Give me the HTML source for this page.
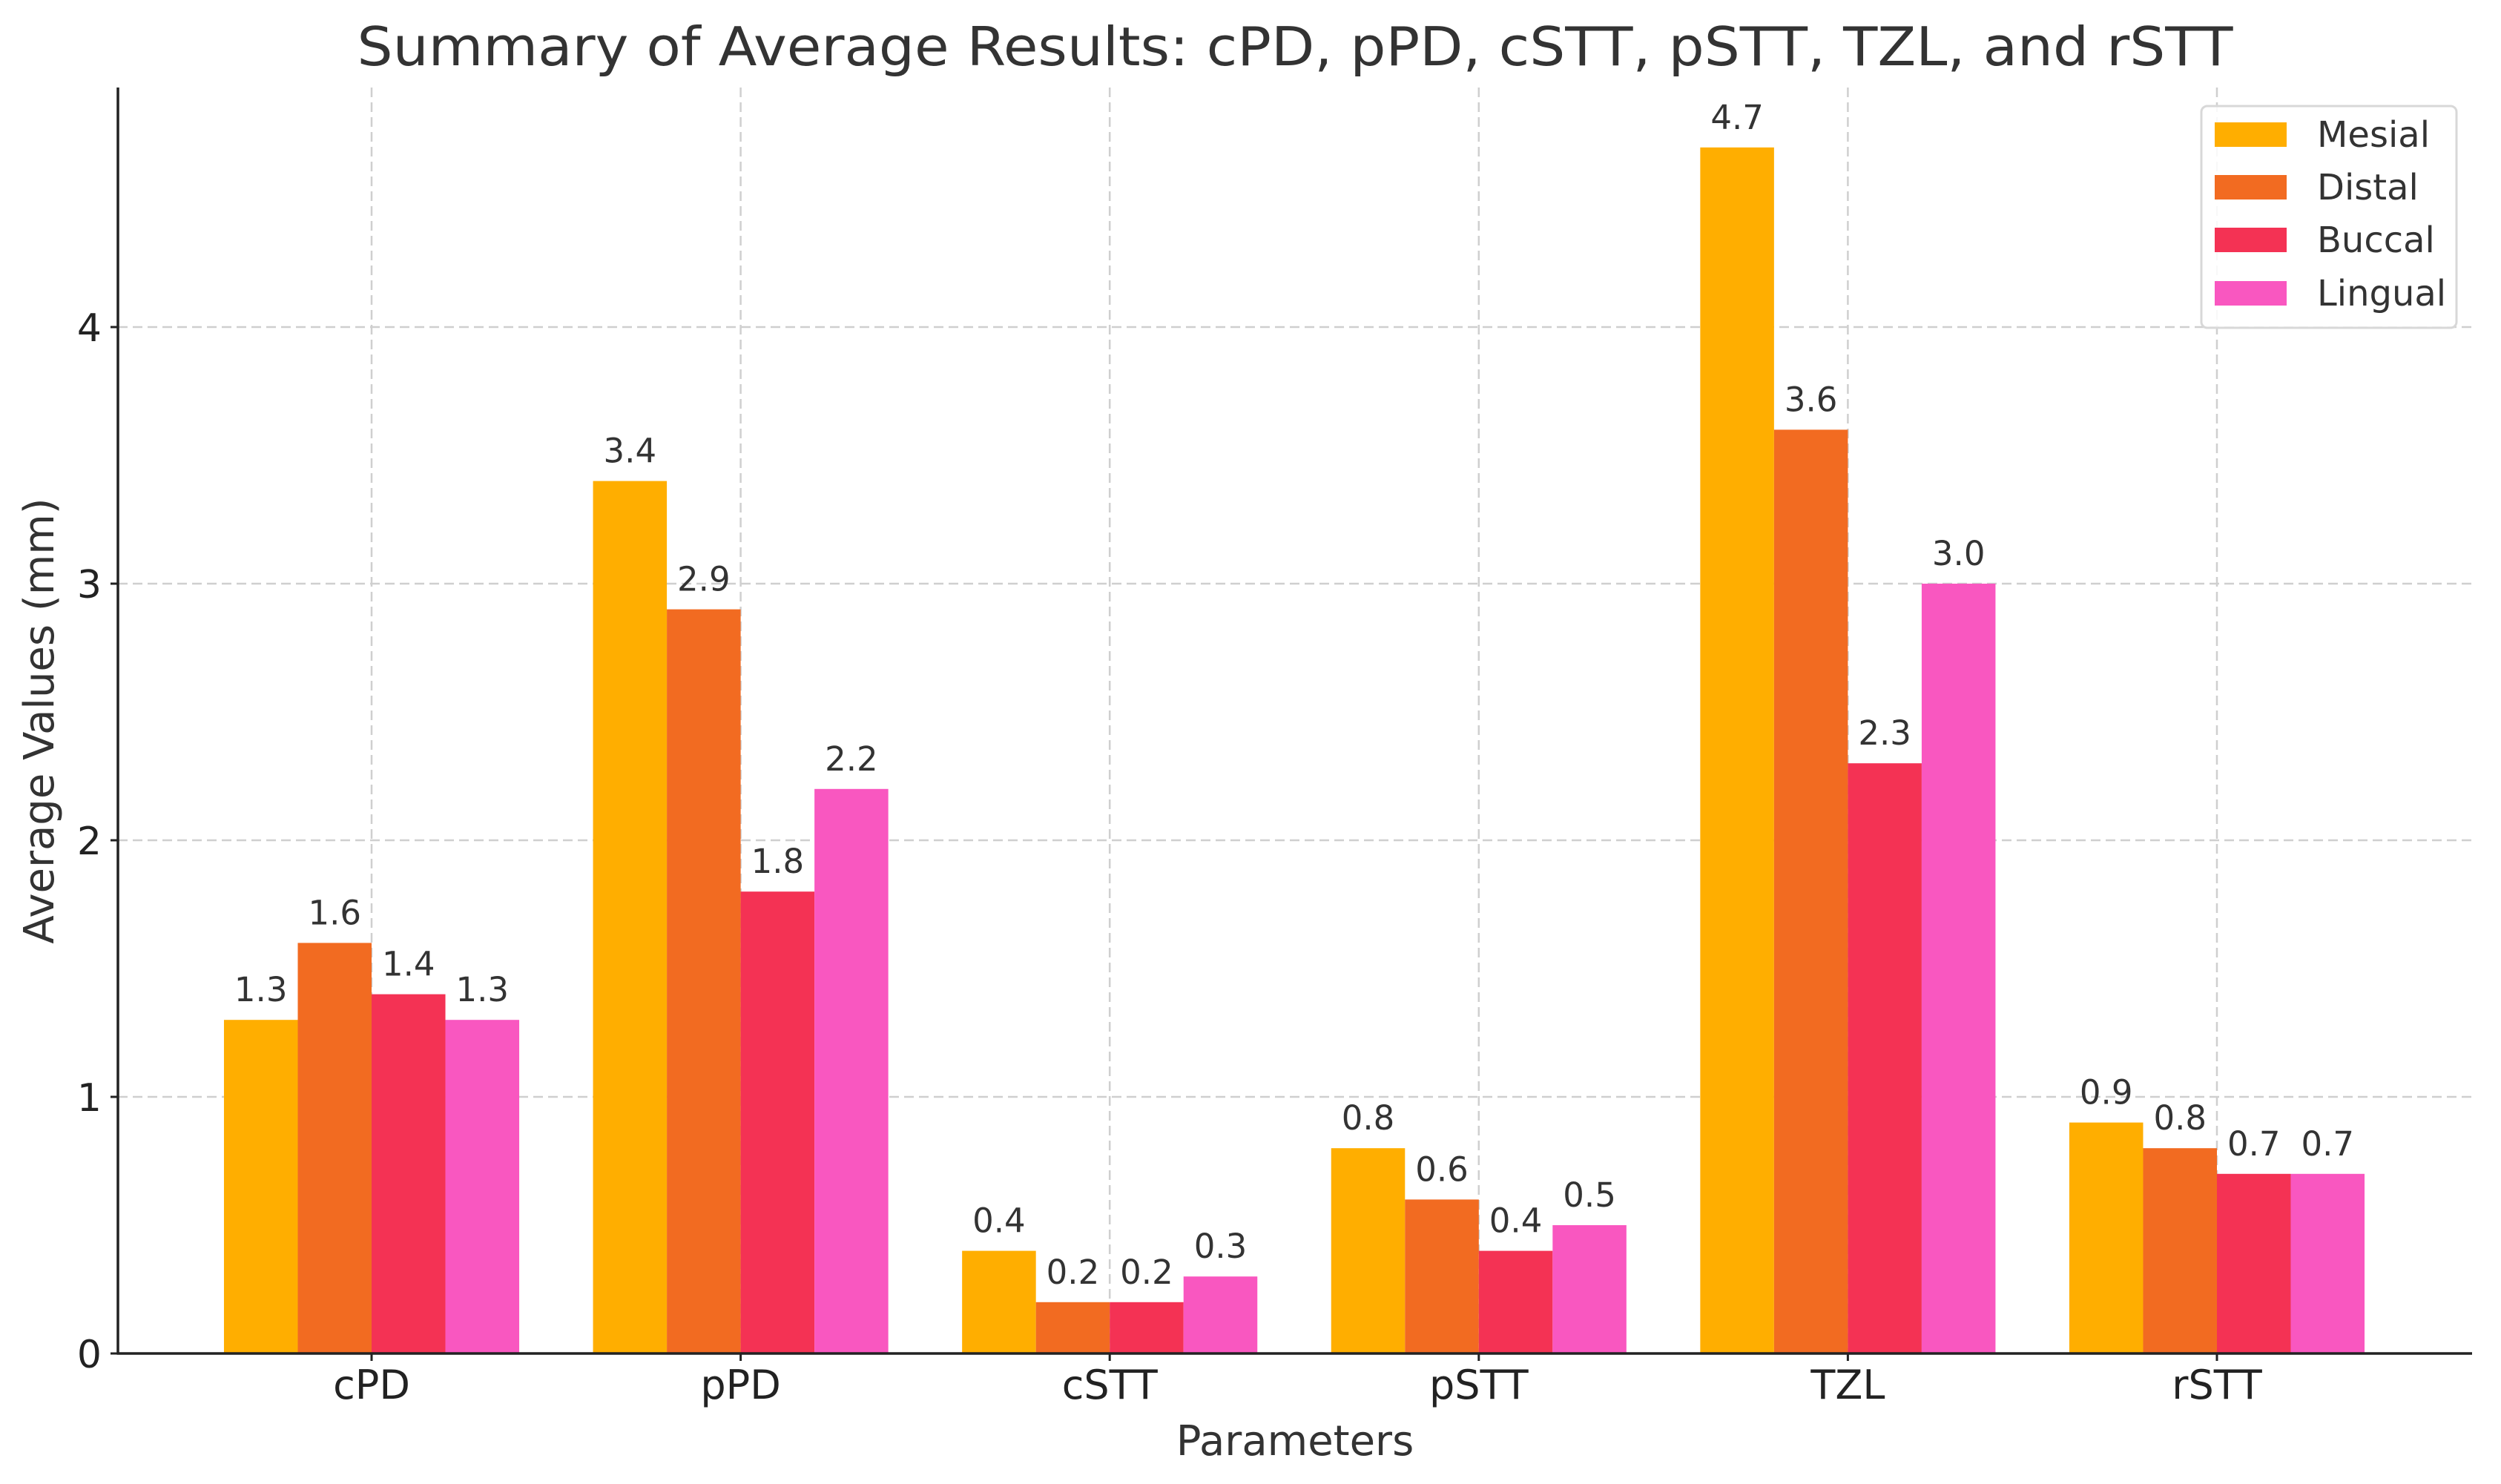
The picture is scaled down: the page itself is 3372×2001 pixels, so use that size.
<!DOCTYPE html>
<html><head><meta charset="utf-8"><style>
html,body{margin:0;padding:0;background:#fff;}
svg{display:block;font-family:"DejaVu Sans","Liberation Sans",sans-serif;}
</style></head><body>
<svg id="chart" width="3372" height="2001" viewBox="0 0 3372 2001" xmlns="http://www.w3.org/2000/svg">
<rect width="3372" height="2001" fill="#fff"/>
<text x="1746" y="88" font-size="72" fill="#333" text-anchor="middle" textLength="2529" lengthAdjust="spacingAndGlyphs">Summary of Average Results: cPD, pPD, cSTT, pSTT, TZL, and rSTT</text>
<g id="grid"></g>
<g id="bars"></g>
<g id="labels"></g>
<g id="axes"></g>
<text x="1746" y="1962" font-size="56" fill="#333" text-anchor="middle">Parameters</text>
<text transform="translate(72,972) rotate(-90)" font-size="56" fill="#333" text-anchor="middle">Average Values (mm)</text>
<g id="legend"></g>
</svg>
<script>
const categories = ["cPD","pPD","cSTT","pSTT","TZL","rSTT"];
const seriesNames = ["Mesial","Distal","Buccal","Lingual"];
const mesial = [1.3,3.4,0.4,0.8,4.7,0.9];
const distal = [1.6,2.9,0.2,0.6,3.6,0.8];
const buccal = [1.4,1.8,0.2,0.4,2.3,0.7];
const lingual = [1.3,2.2,0.3,0.5,3.0,0.7];
const yTicks = [0,1,2,3,4];

const series = [mesial, distal, buccal, lingual];
const colors = ["#FFAE00","#F26B21","#F43254","#F957C0"];
const NS = "http://www.w3.org/2000/svg";
const plotLeft = 159, plotRight = 3333, plotTop = 118, base = 1825;
const x0 = 501, step = 497.6, barW = step * 0.2;
function xScale(i){ return x0 + i*step; }
function yScale(v){ return base - v*346; }
function mk(tag, attrs, parent){
  const el = document.createElementNS(NS, tag);
  for (const k in attrs) el.setAttribute(k, attrs[k]);
  parent.appendChild(el);
  return el;
}
const grid = document.getElementById('grid');
const bars = document.getElementById('bars');
const labels = document.getElementById('labels');
const axes = document.getElementById('axes');
const legend = document.getElementById('legend');

yTicks.forEach(t => {
  const y = yScale(t);
  const g = mk('line', {x1:plotLeft, x2:plotRight, y1:y, y2:y, stroke:'#cfcfcf', 'stroke-width':2.5, 'stroke-dasharray':'13 7'}, grid);
  
  
  const tk = mk('line', {x1:plotLeft-10, x2:plotLeft, y1:y, y2:y, stroke:'#222', 'stroke-width':3}, axes);
  
  
  const tl = mk('text', {x:plotLeft-22, y:y+19, 'font-size':52, fill:'#222', 'text-anchor':'end'}, axes);
  tl.textContent = String(t);
  
  
});
categories.forEach((c, i) => {
  const x = xScale(i);
  const g = mk('line', {x1:x, x2:x, y1:plotTop, y2:base, stroke:'#cfcfcf', 'stroke-width':2.5, 'stroke-dasharray':'13 7'}, grid);
  
  
  series.forEach((s, j) => {
    const v = s[i];
    const bx = x + (j-2)*barW;
    const r = mk('rect', {x:bx, y:yScale(v), width:barW, height:base-yScale(v), fill:colors[j]}, bars);
    
    
    const t = mk('text', {x:bx+barW/2, y:yScale(v)-25, 'font-size':45, fill:'#333', 'text-anchor':'middle'}, labels);
    t.textContent = v.toFixed(1);
    
    
  });
  const tk = mk('line', {x1:x, x2:x, y1:base, y2:base+10, stroke:'#222', 'stroke-width':3}, axes);
  
  
  const tl = mk('text', {x:x, y:1886, 'font-size':54, fill:'#222', 'text-anchor':'middle'}, axes);
  tl.textContent = c;
  
  
});
const ya = mk('line', {x1:plotLeft, x2:plotLeft, y1:plotTop, y2:base+1.5, stroke:'#222', 'stroke-width':3.5}, axes);


const xa = mk('line', {x1:plotLeft-1.5, x2:plotRight, y1:base, y2:base, stroke:'#222', 'stroke-width':3.5}, axes);



const lb = mk('rect', {x:2968, y:143, width:344, height:299, rx:8, fill:'#fff', 'fill-opacity':0.85, stroke:'#d8d8d8', 'stroke-width':3}, legend);


const rowY = [181,252,323,395];
seriesNames.forEach((n, j) => {
  const p = mk('rect', {x:2986, y:rowY[j]-16, width:97, height:33, fill:colors[j]}, legend);
  
  
  const t = mk('text', {x:3124, y:rowY[j]+17, 'font-size':48, fill:'#333'}, legend);
  t.textContent = n;
  
  
});
</script>
</body></html>
